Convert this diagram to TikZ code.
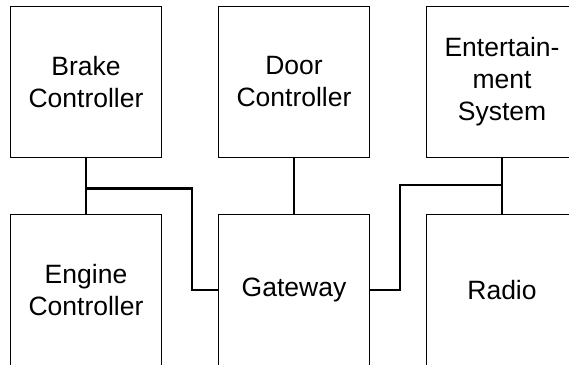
\documentclass[tikz,border=0pt]{standalone}
\usepackage{fontspec}
\setmainfont{Liberation Sans}
\usetikzlibrary{positioning,calc}

\tikzset{
  unit/.style={draw, line width=1.2pt, minimum width=151pt, minimum height=151pt,
    inner sep=0pt, align=center, font=\fontsize{26.5}{32}\selectfont},
  bus/.style={line width=2.6pt}
}

\begin{document}
\begin{tikzpicture}[x=1pt, y=1pt, node distance=55.8pt]
    \useasboundingbox (0,0) rectangle (569,-364);
    \clip (0,0) rectangle (569,-364);

    % Top row
    \node[unit] (brake) at (86,-82) {Brake\\Controller};
    \node[unit, right=of brake] (door) {Door\\Controller};
    \node[unit, right=of door] (ent) {Entertain-\\ment\\System};

    % Bottom row
    \node[unit, below=of brake] (engine) {Engine\\Controller};
    \node[unit, below=of door] (gateway) {Gateway};
    \node[unit, below=of ent] (radio) {Radio};

    % Junctions on the left and right bus
    \coordinate (jl) at ($(brake.south)!0.55!(engine.north)$);
    \coordinate (jr) at ($(ent.south)!0.48!(radio.north)$);

    % Bus lines
    \draw[bus] (brake.south) -- (engine.north);
    \draw[bus] (door.south) -- (gateway.north);
    \draw[bus] (ent.south) -- (radio.north);
    \draw[bus] (jl) -| ([xshift=-26pt]gateway.west) -- (gateway.west);
    \draw[bus] (jr) -| ([xshift=30pt]gateway.east) -- (gateway.east);
\end{tikzpicture}
\end{document}
